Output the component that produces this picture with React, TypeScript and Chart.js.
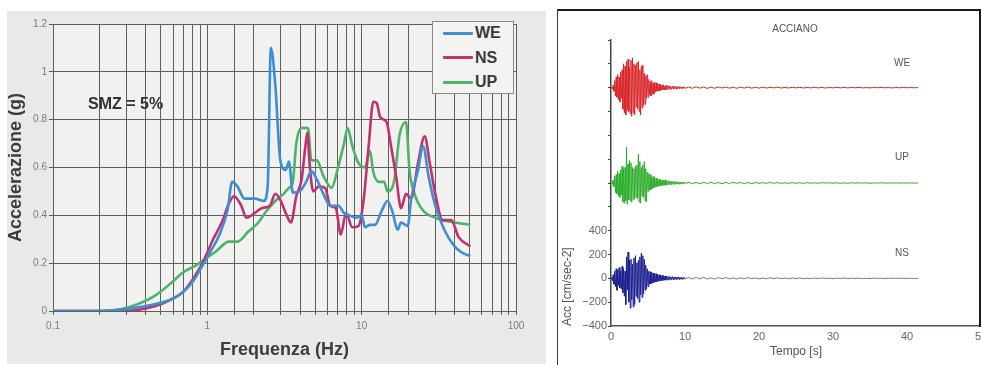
import React, { useEffect, useRef } from "react";
import { Chart, registerables } from "chart.js";

Chart.register(...registerables);

const FONT = '"Liberation Sans", Arial, Helvetica, sans-serif';

// ---------- Left chart: response spectra (SMZ = 5%) ----------
const SERIES_NAMES = ["WE", "NS", "UP"];
const SERIES_COLORS = ["#3d8fd1", "#c2306d", "#4db36b"];

const FREQ_WE = [0.1, 0.2, 0.273, 0.456, 0.59, 0.69, 0.8, 0.93, 1.03, 1.21, 1.35, 1.45, 1.57, 1.74, 2.03, 2.32, 2.46, 2.58, 2.76, 2.97, 3.22, 3.38, 3.58, 3.96, 4.37, 4.72, 5.12, 5.65, 6.24, 7.07, 7.68, 8.3, 9.19, 10.0, 10.5, 11.3, 12.2, 13.5, 14.7, 15.9, 17.1, 18.0, 19.9, 20.9, 23.2, 25.0, 27.1, 30.0, 34.3, 40.0, 44.4, 50.6];
const ACC_WE = [0, 0, 0.005, 0.028, 0.05, 0.077, 0.12, 0.19, 0.24, 0.325, 0.42, 0.54, 0.52, 0.47, 0.47, 0.46, 0.52, 1.1, 0.94, 0.63, 0.59, 0.625, 0.495, 0.5, 0.54, 0.585, 0.55, 0.49, 0.44, 0.44, 0.41, 0.4, 0.39, 0.4, 0.35, 0.36, 0.36, 0.42, 0.46, 0.41, 0.34, 0.37, 0.355, 0.465, 0.59, 0.69, 0.565, 0.44, 0.34, 0.27, 0.245, 0.23];

const FREQ_NS = [0.1, 0.28, 0.456, 0.59, 0.69, 0.8, 0.93, 1.09, 1.25, 1.38, 1.49, 1.66, 1.79, 2.03, 2.25, 2.54, 2.76, 2.97, 3.22, 3.48, 3.77, 4.08, 4.34, 4.45, 4.61, 4.86, 5.25, 5.8, 6.24, 6.8, 7.32, 7.92, 8.7, 9.52, 10.3, 11.1, 11.9, 12.5, 13.2, 14.5, 15.5, 16.7, 18.0, 19.4, 20.9, 23.2, 25.6, 27.6, 30.0, 33.5, 38.1, 42.4, 50.6];
const ACC_NS = [0, 0, 0.02, 0.05, 0.077, 0.13, 0.2, 0.3, 0.375, 0.45, 0.48, 0.44, 0.39, 0.41, 0.43, 0.44, 0.49, 0.465, 0.41, 0.37, 0.48, 0.55, 0.7, 0.745, 0.605, 0.5, 0.52, 0.515, 0.44, 0.43, 0.32, 0.41, 0.35, 0.355, 0.465, 0.69, 0.875, 0.87, 0.81, 0.79, 0.69, 0.565, 0.43, 0.49, 0.47, 0.62, 0.73, 0.62, 0.49, 0.38, 0.38, 0.31, 0.27];

const FREQ_UP = [0.1, 0.2, 0.273, 0.353, 0.456, 0.59, 0.69, 0.84, 0.98, 1.14, 1.38, 1.57, 1.83, 2.14, 2.43, 2.76, 3.12, 3.38, 3.58, 3.77, 4.08, 4.49, 4.72, 5.12, 5.65, 6.4, 6.9, 7.68, 8.1, 8.7, 9.5, 10.5, 11.3, 11.9, 12.9, 14.0, 14.7, 16.3, 17.6, 19.4, 20.4, 22.0, 25.0, 30.0, 36.0, 50.6];
const ACC_UP = [0, 0, 0.007, 0.028, 0.063, 0.12, 0.16, 0.19, 0.22, 0.25, 0.29, 0.29, 0.33, 0.37, 0.42, 0.46, 0.49, 0.515, 0.54, 0.7, 0.765, 0.765, 0.63, 0.63, 0.565, 0.515, 0.58, 0.7, 0.765, 0.69, 0.62, 0.6, 0.67, 0.58, 0.54, 0.54, 0.5, 0.55, 0.735, 0.79, 0.59, 0.49, 0.42, 0.39, 0.375, 0.36];

const LOG_TICK_LABELS = [0.1, 1, 10, 100];
const SPECTRUM_NOTE = "SMZ = 5%";

// ---------- Right chart: accelerograms (ACCIANO) ----------
const STATION = "ACCIANO";
const TRACE_NAMES = ["WE", "UP", "NS"];
const TRACE_COLORS = ["#d8262a", "#2fae2c", "#1c1f8f"];
const NS_TAIL_COLOR = "#7d6cc0";
const TRACE_OFFSETS = [1600, 800, 0];
const FINE_DT = 0.1; // s, samples 0..10 s
const TAIL_START = 10.5;
const TAIL_DT = 0.5;

const WE_FINE = [
  0, 5, -10, 20, -30,
  60, -70, 90, -80, 110, -100, 90, -120, 130, -90,
  150, -180, 200, -210, 180, -230, 220, -190, 240, -200,
  170, -220, 230, -240, 250, -210, 200, -230, 190, -160,
  210, -180, 220, -200, 150, -230, 180, -170, 190, -150,
  120, -140, 100, -90, 110, -80, 70, -60, 50, -70,
  60, -50, 40, -55, 45, -35, 40, -30, 35, -25,
  30, -28, 25, -20, 22, -18, 24, -20, 15, -18,
  20, -15, 18, -12, 15, -14, 10, -12, 14, -10,
  12, -10, 9, -11, 8, -9, 10, -7, 8, -6,
  7, -8, 6, -5, 7, -6,
];
const UP_FINE = [
  0, 8, -12, 25, -30,
  60, -80, 70, -90, 100, -110, 80, -120, 110, -100,
  140, -160, 120, -170, 130, -150, 300, -180, 160, -140,
  190, -150, 170, -160, 130, -140, 120, -130, 140, -120,
  150, -130, 240, -160, 180, -170, 130, -110, 150, -120,
  180, -150, 120, -160, 90, -70, 80, -60, 70, -55,
  50, -45, 55, -40, 45, -35, 40, -30, 35, -28,
  30, -25, 28, -22, 25, -20, 22, -18, 26, -20,
  18, -15, 20, -14, 16, -12, 15, -13, 12, -10,
  14, -11, 10, -9, 12, -8, 10, -9, 8, -7,
  9, -7, 8, -6, 7, -5,
];
const NS_FINE = [
  0, 10, -20, 30, -50,
  60, -70, 80, -100, 70, -60, 90, -80, 60, -90,
  100, -120, 80, -150, 60, -220, 180, -100, 220, -200,
  150, -250, 160, -180, 120, -240, 170, -220, 190, -150,
  130, -170, 150, -200, 180, -140, 210, -160, 190, -130,
  160, -100, 110, -90, 80, -70, 60, -50, 55, -45,
  50, -40, 45, -35, 40, -30, 38, -28, 32, -25,
  30, -22, 26, -20, 24, -18, 22, -16, 20, -15,
  18, -14, 16, -12, 15, -13, 12, -10, 14, -11,
  12, -10, 11, -9, 10, -8, 12, -9, 8, -7,
  9, -8, 7, -6, 8, -6,
];
const WE_TAIL = [6, -5, 7, -4, 5, -6, 4, -5, 6, -3, 5, -4, 3, -5, 4, -3, 5, -4, 3, -4, 4, -3, 3, -2, 4, -3, 2, -3, 3, -2, 3, -3, 2, -2, 3, -2, 2, -3, 2, -2, 3, -2, 2, -2, 2, -1, 2, -2, 1, -2, 2, -1, 2, -1, 1, -2, 1, -1, 2, -1, 1, -1, 1];
const UP_TAIL = [7, -6, 5, -7, 6, -4, 5, -5, 4, -6, 5, -4, 6, -3, 4, -4, 3, -5, 4, -3, 3, -3, 4, -2, 3, -3, 2, -3, 3, -2, 2, -3, 3, -2, 2, -2, 3, -1, 2, -2, 2, -2, 1, -2, 2, -1, 2, -1, 1, -2, 1, -1, 2, -1, 1, -1, 1, -1, 1, -1, 1, -1, 0];
const NS_TAIL = [8, -6, 7, -5, 9, -6, 5, -7, 6, -4, 7, -5, 4, -6, 5, -4, 6, -3, 4, -5, 3, -4, 5, -3, 4, -3, 3, -4, 3, -2, 4, -3, 2, -3, 3, -2, 3, -2, 2, -3, 2, -2, 3, -2, 2, -1, 2, -2, 1, -2, 2, -1, 1, -2, 1, -1, 2, -1, 1, -1, 1, -1, 0];
const Y_LABELED = [-400, -200, 0, 200, 400];

function pairs(xs: number[], ys: number[]) {
  return xs.map((x, i) => ({ x, y: ys[i] }));
}

function trace(fine: number[], tail: number[], offset: number) {
  const pts = fine.map((v, i) => ({ x: +(i * FINE_DT).toFixed(2), y: v + offset }));
  tail.forEach((v, i) => pts.push({ x: TAIL_START + i * TAIL_DT, y: v + offset }));
  return pts;
}

const plotBg = {
  id: "plotBg",
  beforeDraw(chart: any, _a: any, opts: any) {
    if (!opts || !opts.color) return;
    const { ctx, chartArea } = chart;
    ctx.save();
    ctx.fillStyle = opts.color;
    ctx.fillRect(chartArea.left, chartArea.top, chartArea.right - chartArea.left, chartArea.bottom - chartArea.top);
    ctx.restore();
  },
};

export default function App() {
  const leftRef = useRef<HTMLCanvasElement>(null);
  const rightRef = useRef<HTMLCanvasElement>(null);

  useEffect(() => {
    const spectra = [
      pairs(FREQ_WE, ACC_WE),
      pairs(FREQ_NS, ACC_NS),
      pairs(FREQ_UP, ACC_UP),
    ];
    const left = new Chart(leftRef.current as HTMLCanvasElement, {
      type: "line",
      data: {
        datasets: SERIES_NAMES.map((name, i) => ({
          label: name,
          data: spectra[i],
          borderColor: SERIES_COLORS[i],
          borderWidth: 2.6,
          pointRadius: 0,
          fill: false,
          cubicInterpolationMode: "monotone" as const,
        })),
      },
      plugins: [plotBg],
      options: {
        responsive: false,
        animation: false,
        layout: { padding: { top: 13, right: 30, left: 0, bottom: 0 } },
        plugins: {
          legend: { display: false },
          tooltip: { enabled: false },
          plotBg: { color: "#f1f1f0" },
        } as any,
        scales: {
          x: {
            type: "logarithmic",
            min: 0.1,
            max: 100,
            afterFit: (s: any) => { s.height = 53; },
            grid: { color: "#5e5e5e", lineWidth: 1, tickLength: 4 },
            border: { color: "#5e5e5e" },
            ticks: {
              autoSkip: false,
              maxRotation: 0,
              padding: 5,
              color: "#7c7c7c",
              font: { family: FONT, size: 10 },
              callback: (v: any) => {
                const n = Number(v);
                const hit = LOG_TICK_LABELS.find((t) => Math.abs(t - n) / t < 1e-6);
                return hit !== undefined ? String(hit) : "";
              },
            },
            title: {
              display: true,
              text: "Frequenza (Hz)",
              color: "#3c3c3c",
              font: { family: FONT, size: 18, weight: "bold", lineHeight: 1.2 },
              padding: { top: 0, bottom: 3 },
            },
          },
          y: {
            min: 0,
            max: 1.2,
            afterFit: (s: any) => { s.width = 46; },
            grid: { color: "#5e5e5e", lineWidth: 1, tickLength: 4 },
            border: { color: "#5e5e5e" },
            ticks: {
              stepSize: 0.2,
              padding: 2,
              color: "#7c7c7c",
              font: { family: FONT, size: 10 },
              callback: (v: any) => String(Math.round(Number(v) * 10) / 10),
            },
            title: {
              display: true,
              text: "Accelerazione (g)",
              color: "#3c3c3c",
              font: { family: FONT, size: 18, weight: "bold", lineHeight: 1 },
              padding: { top: 0, bottom: 0 },
            },
          },
        },
      } as any,
    });

    const traces = [
      trace(WE_FINE, WE_TAIL, TRACE_OFFSETS[0]),
      trace(UP_FINE, UP_TAIL, TRACE_OFFSETS[1]),
      trace(NS_FINE, NS_TAIL, TRACE_OFFSETS[2]),
    ];
    const right = new Chart(rightRef.current as HTMLCanvasElement, {
      type: "line",
      data: {
        datasets: TRACE_NAMES.map((name, i) => ({
          label: name,
          data: traces[i],
          borderColor: TRACE_COLORS[i],
          borderWidth: 1,
          pointRadius: 0,
          fill: false,
          tension: 0,
          segment: i === 2 ? { borderColor: (c: any) => (c.p0.parsed.x >= 10 ? NS_TAIL_COLOR : undefined) } : undefined,
        })),
      },
      options: {
        responsive: false,
        animation: false,
        layout: { padding: { top: 31, right: 16, left: 0, bottom: 0 } },
        plugins: { legend: { display: false }, tooltip: { enabled: false } },
        scales: {
          x: {
            type: "linear",
            min: 0,
            max: 50,
            afterFit: (s: any) => { s.height = 39; },
            grid: { drawOnChartArea: false, drawTicks: false, color: "#6b4b3b" },
            border: { color: "#6b4b3b", width: 1.5 },
            ticks: {
              stepSize: 10,
              padding: 4,
              maxRotation: 0,
              color: "#666",
              font: { family: FONT, size: 11 },
            },
            title: {
              display: true,
              text: "Tempo [s]",
              color: "#555",
              font: { family: FONT, size: 12, lineHeight: 1.2 },
              padding: { top: 0, bottom: 6 },
            },
          },
          y: {
            type: "linear",
            min: -400,
            max: 2000,
            afterFit: (s: any) => { s.width = 54; },
            grid: { drawOnChartArea: false, tickLength: 3, color: "#444" },
            border: { color: "#444", width: 1.5 },
            ticks: {
              stepSize: 200,
              padding: 1,
              autoSkip: false,
              color: "#666",
              font: { family: FONT, size: 11 },
              callback: (v: any) => {
                const n = Math.round(Number(v));
                if (!Y_LABELED.includes(n)) return "";
                return n < 0 ? "\u2212" + Math.abs(n) : String(n);
              },
            },
            title: {
              display: true,
              text: "Acc [cm/sec-2]",
              align: "start",
              color: "#555",
              font: { family: FONT, size: 12, lineHeight: 1 },
              padding: { top: 5, bottom: 0 },
            },
          },
        },
      } as any,
    });

    return () => {
      left.destroy();
      right.destroy();
    };
  }, []);

  const smallLabel: React.CSSProperties = {
    position: "absolute",
    transform: "translate(-50%, -50%)",
    fontSize: 10,
    color: "#555",
    fontFamily: FONT,
    whiteSpace: "nowrap",
  };

  return (
    <div style={{ position: "fixed", left: 0, top: 0, width: 981, height: 365, overflow: "hidden", background: "#fff", fontFamily: FONT }}>
      {/* left panel */}
      <div style={{ position: "absolute", left: 7, top: 11, width: 539, height: 353, background: "#e9e9e8" }}>
        <canvas ref={leftRef} width={539} height={353} style={{ display: "block" }} />
        <div style={{ position: "absolute", left: 81, top: 83, fontSize: 16, fontWeight: "bold", color: "#333", whiteSpace: "nowrap", lineHeight: "20px" }}>
          {SPECTRUM_NOTE}
        </div>
        <div style={{ position: "absolute", left: 425, top: 10, width: 82, height: 73, background: "#f3f3f2", border: "1px solid #8a8a8a", boxSizing: "border-box" }}>
          {SERIES_NAMES.map((name, i) => (
            <div key={name} style={{ position: "absolute", left: 10, top: 1 + i * 24.5, height: 20, display: "flex", alignItems: "center" }}>
              <span style={{ display: "inline-block", width: 30, height: 3, background: SERIES_COLORS[i], borderRadius: 1 }} />
              <span style={{ marginLeft: 2, fontSize: 16, fontWeight: "bold", color: "#3a3a3a", lineHeight: "20px" }}>{name}</span>
            </div>
          ))}
        </div>
      </div>

      {/* right panel */}
      <div style={{ position: "absolute", left: 557, top: 9, width: 440, height: 356 }}>
        <canvas ref={rightRef} width={440} height={356} style={{ display: "block" }} />
      </div>
      <div style={{ position: "absolute", left: 557, top: 9, width: 424, height: 2, background: "#1a1a1a" }} />
      <div style={{ position: "absolute", left: 557, top: 9, width: 1, height: 356, background: "#3a3a3a" }} />
      <div style={{ position: "absolute", left: 979, top: 9, width: 2, height: 318, background: "#1a1a1a" }} />
      <div style={{ ...smallLabel, left: 795, top: 28 }}>{STATION}</div>
      <div style={{ ...smallLabel, left: 902, top: 62 }}>{TRACE_NAMES[0]}</div>
      <div style={{ ...smallLabel, left: 902, top: 156 }}>{TRACE_NAMES[1]}</div>
      <div style={{ ...smallLabel, left: 902, top: 252 }}>{TRACE_NAMES[2]}</div>
    </div>
  );
}
